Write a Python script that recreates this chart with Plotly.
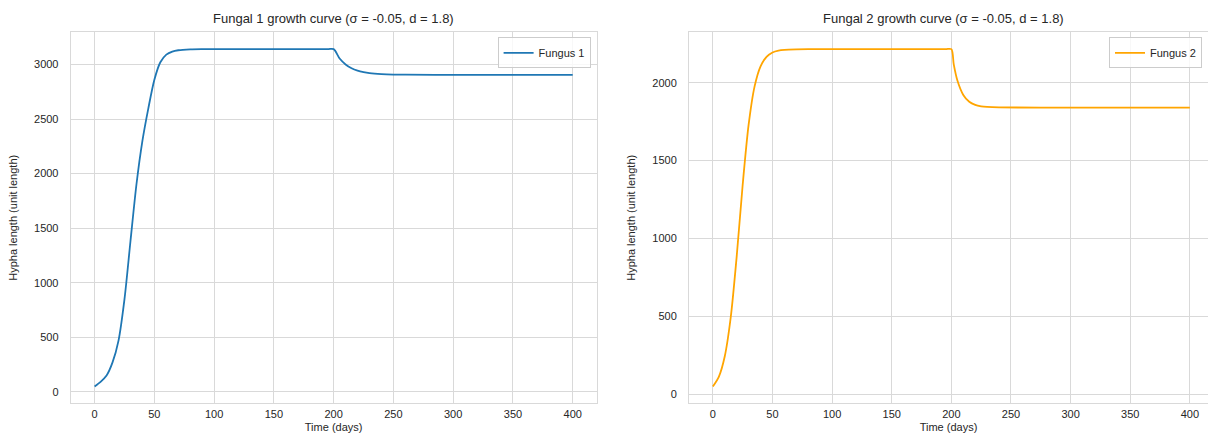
import plotly.graph_objects as go

# ---- data ----
days_1 = [0, 5, 10, 15, 20, 25, 30, 35, 40, 45, 50, 55, 60, 65, 70, 80, 90, 150, 195, 200,
          205, 210, 215, 220, 225, 230, 240, 250, 260, 300, 400]
fungus_1 = [50, 92, 150, 270, 470, 850, 1380, 1900, 2300, 2600, 2860, 3020, 3090, 3118, 3130,
            3138, 3140, 3140, 3140, 3140,
            3054, 3000, 2965, 2943, 2929, 2920, 2911, 2907, 2906, 2905, 2905]

days_2 = [0, 5, 10, 15, 20, 25, 30, 35, 40, 45, 50, 55, 60, 70, 80, 150, 195, 200,
          202, 205, 210, 215, 220, 225, 230, 240, 300, 400]
fungus_2 = [50, 112, 244, 494, 885, 1343, 1730, 1976, 2105, 2166, 2194, 2206, 2211, 2214, 2215,
            2215, 2215, 2215,
            2117, 2015, 1921, 1877, 1857, 1848, 1844, 1841, 1840, 1840]

x_ticks = [0, 50, 100, 150, 200, 250, 300, 350, 400]
y_ticks_1 = [0, 500, 1000, 1500, 2000, 2500, 3000]
y_ticks_2 = [0, 500, 1000, 1500, 2000]

titles = ["Fungal 1 growth curve (σ = -0.05, d = 1.8)", "Fungal 2 growth curve (σ = -0.05, d = 1.8)"]
names = ["Fungus 1", "Fungus 2"]
colors = ["#1f77b4", "#ffa500"]

W, H = 1208, 444
FONT = "Liberation Sans, Arial, sans-serif"
TXT = "#262626"
GRID = "#d9d9d9"

fig = go.Figure()
fig.add_trace(go.Scatter(x=days_1, y=fungus_1, mode="lines", name=names[0],
                         line=dict(color=colors[0], width=1.8, shape="spline", smoothing=0.8),
                         xaxis="x", yaxis="y", legend="legend"))
fig.add_trace(go.Scatter(x=days_2, y=fungus_2, mode="lines", name=names[1],
                         line=dict(color=colors[1], width=1.8, shape="spline", smoothing=0.8),
                         xaxis="x2", yaxis="y2", legend="legend2"))

# pixel geometry of the two plot frames
L1, R1 = 70.7, 596.6
L2, R2 = 689.0, 1208.0
TOP, BOT = 32.3, 403.3
ydom = [(H - BOT) / H, (H - TOP) / H]

axis_common = dict(showgrid=True, gridcolor=GRID, gridwidth=1, zeroline=False,
                   showline=True, linecolor=GRID, linewidth=1, mirror=True,
                   automargin=False,
                   ticks="", tickfont=dict(family=FONT, size=11, color=TXT),
                   title_font=dict(family=FONT, size=11, color=TXT))

fig.update_layout(
    width=W, height=H,
    margin=dict(l=0, r=0, t=0, b=0, autoexpand=False),
    paper_bgcolor="white", plot_bgcolor="white",
    font=dict(family=FONT, color=TXT),
    xaxis=dict(domain=[L1 / W, R1 / W], range=[-20, 420], tickvals=x_ticks,
               title=dict(text="Time (days)", standoff=4), anchor="y", **axis_common),
    yaxis=dict(domain=ydom, range=[-104.5, 3294.5], tickvals=y_ticks_1,
               title=dict(text="Hypha length (unit length)", standoff=14),
               ticklabelstandoff=9, anchor="x", **axis_common),
    xaxis2=dict(domain=[L2 / W, R2 / W], range=[-20, 415.2], tickvals=x_ticks,
                title=dict(text="Time (days)", standoff=4), anchor="y2", **axis_common),
    yaxis2=dict(domain=ydom, range=[-58.3, 2323.3], tickvals=y_ticks_2,
                title=dict(text="Hypha length (unit length)", standoff=14),
                ticklabelstandoff=9, anchor="x2", **axis_common),
    legend=dict(x=(R1 - 6) / W, y=(H - TOP - 5) / H, xanchor="right", yanchor="top",
                bgcolor="rgba(255,255,255,0.8)", bordercolor="#cccccc", borderwidth=1,
                font=dict(family=FONT, size=11, color=TXT)),
    legend2=dict(x=(R2 - 6) / W, y=(H - TOP - 5) / H, xanchor="right", yanchor="top",
                 bgcolor="rgba(255,255,255,0.8)", bordercolor="#cccccc", borderwidth=1,
                 font=dict(family=FONT, size=11, color=TXT)),
    showlegend=True,
)

for i, (l, r) in enumerate([(L1, R1), (L2, R2 - 10)]):
    fig.add_annotation(text=titles[i], x=((l + r) / 2) / W, y=(H - 18) / H,
                       xref="paper", yref="paper", showarrow=False,
                       xanchor="center", yanchor="middle",
                       font=dict(family=FONT, size=13, color=TXT))

fig.write_html("out.html", config={"displayModeBar": False},
               post_script="document.body.style.margin='0';document.body.style.overflow='hidden';")
